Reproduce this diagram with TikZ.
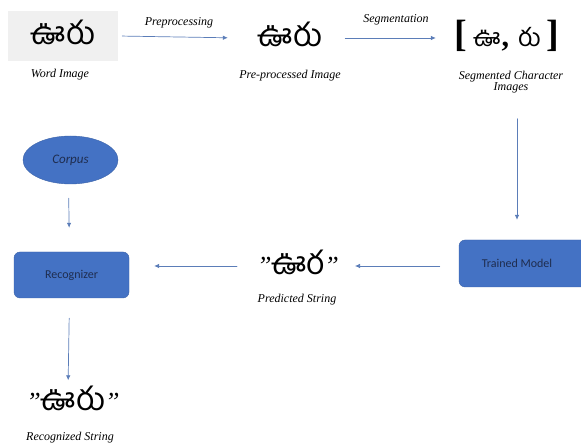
\documentclass[tikz,border=0pt]{standalone}
\usepackage{fontspec}
\setmainfont{Liberation Serif}
\setsansfont{Carlito}
\newfontfamily\telugu[Script=Telugu]{Hind Guntur}
\usetikzlibrary{arrows.meta,shapes.geometric}
\definecolor{boxblue}{HTML}{4472C4}
\definecolor{linkblue}{HTML}{5B7DB8}
\definecolor{inkblue}{HTML}{1F2D4F}
\newcommand{\qt}{{\rmfamily\itshape\fontsize{26}{26}\selectfont\char"22}}
\newcommand{\brk}[1]{{\rmfamily\bfseries\fontsize{38}{38}\selectfont#1}}

\begin{document}
\begin{tikzpicture}[x=1pt,y=-1pt,line cap=round,line join=round,
  flow/.style={draw=linkblue,line width=.7pt,-{Latex[length=5pt,width=4.5pt]}},
  blockbox/.style={rounded corners=6pt,fill=boxblue,draw=boxblue!85!black,font=\sffamily\fontsize{12}{13}\selectfont,text=inkblue},
  caption/.style={font=\itshape\fontsize{12}{10}\selectfont,align=center,inner sep=0pt},
  script/.style={font=\telugu\fontsize{32}{32}\selectfont,inner sep=0pt,text height=20pt,text depth=3pt}]
\useasboundingbox (0,0) rectangle (581,443);
% top row: word image -> pre-processed -> segmented
\node[script,fill=black!6,minimum width=110,minimum height=50] (wimg) at (63,36) {ఊరు};
\node[caption] (wcap) at (60,75) {Word Image};
\node[script,minimum width=100,minimum height=40] (pimg) at (290,38) {ఊరు};
\node[caption] (pcap) at (290,76) {Pre-processed Image};
\node[script,font=\telugu\fontsize{25}{25}\selectfont,minimum width=110,minimum height=40] (simg) at (507,38)
  {\brk{[}\hspace{6pt}ఊ\hspace{1pt}{\rmfamily\bfseries\fontsize{30}{30}\selectfont,}\hspace{9pt}రు\hspace{6pt}\brk{]}};
\node[caption] (scap) at (511,82) {Segmented Character\\[-1pt]Images};
\draw[flow,shorten <=4,shorten >=12] (wimg.east) -- (pimg.west)
  node[midway,above=9pt,caption] (plbl) {Preprocessing};
\draw[flow,shorten <=5,shorten >=16] (pimg.east) -- (simg.west)
  node[midway,above=13pt,caption] (slbl) {Segmentation};
% model and recognition
\node[blockbox,minimum width=130,minimum height=47] (tmodel) at (524,263.5) {\hspace*{-14pt}Trained Model};
\draw[flow,shorten <=26,shorten >=20] ([xshift=-7pt]tmodel.north |- scap.south) -- ([xshift=-7pt]tmodel.north);
\node[script] (pred) at (298,266) {\qt ఊర\qt};
\node[caption] (predcap) at (297,300) {Predicted String};
\node[blockbox,minimum width=115,minimum height=46] (recog) at (71.5,275) {Recognizer};
\node[ellipse,fill=boxblue,draw=boxblue!85!black,minimum width=95,minimum height=48,
  font=\sffamily\itshape\fontsize{13}{14}\selectfont,text=inkblue] (corpus) at (70.5,160) {Corpus};
\draw[flow,shorten <=19,shorten >=16] (pred.east -| tmodel.west) -- (pred.east);
\draw[flow,shorten <=20,shorten >=25] (pred.west) -- (recog.east |- pred.west);
\draw[flow,shorten <=14,shorten >=24] ([xshift=-2pt]corpus.south) -- ([xshift=-2pt]recog.north);
\node[script] (recd) at (73,402) {\qt ఊరు\qt};
\node[caption] (recdcap) at (70,438) {Recognized String};
\draw[flow,shorten <=20,shorten >=10] ([xshift=-2pt]recog.south) -- ([xshift=-5pt]recd.north);
\end{tikzpicture}
\end{document}
